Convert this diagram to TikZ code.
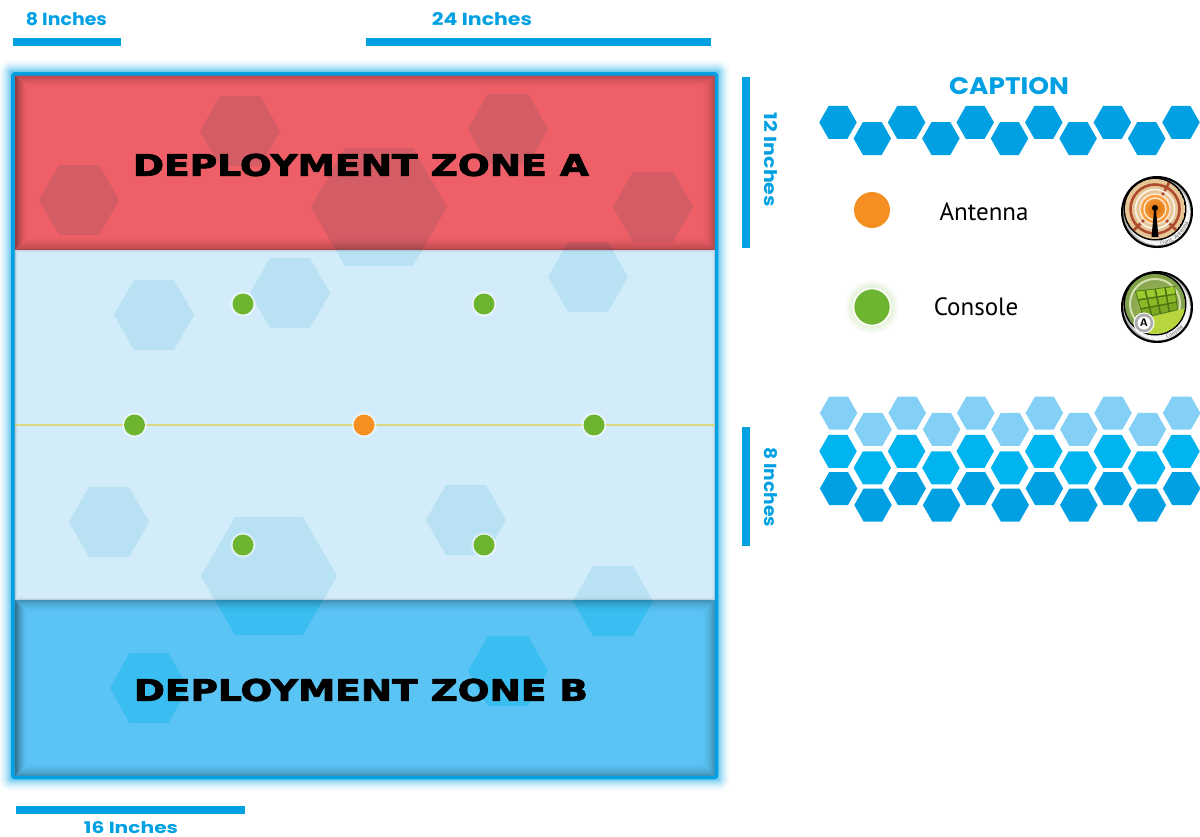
\documentclass[tikz,border=0pt]{standalone}
\usepackage{graphicx}
\usepackage{fontspec}
\setmainfont{PT Sans}
\newfontfamily\labelfont{Poppins}
\newfontfamily\zonefont[FakeBold=2.5]{DejaVu Sans Bold}
\usetikzlibrary{calc,decorations.text}
\definecolor{frameblue}{HTML}{00A0E3}
\definecolor{hexmid}{HTML}{00B4EF}
\definecolor{hexlight}{HTML}{83CFF5}
\definecolor{zonered}{HTML}{EE5F67}
\definecolor{zonemid}{HTML}{D3ECF9}
\definecolor{zoneblue}{HTML}{5AC4F5}
\definecolor{hexonred}{HTML}{D45C65}
\definecolor{hexonmid}{HTML}{B8E1F4}
\definecolor{hexonblue}{HTML}{3ABEF1}
\definecolor{dotgreen}{HTML}{6DB52F}
\definecolor{dotorange}{HTML}{F58F22}
\definecolor{lineyellow}{HTML}{DCD87F}
\definecolor{badgetan}{HTML}{E6C596}
\definecolor{badgered}{HTML}{AE4A2E}
\definecolor{consoleedge}{HTML}{7F9F4A}
\definecolor{consolemid}{HTML}{A9C25E}
\definecolor{consoleglow}{HTML}{B7D53C}
\definecolor{consolering}{HTML}{D5E2B0}
\definecolor{tilegreen}{HTML}{9CC92E}
\definecolor{tiledark}{HTML}{4B7312}
\newcommand{\hexa}[5]{\fill[#5] ({#1-0.5*#3},#2) -- ({#1-0.25*#3},{#2-0.5*#4}) -- ({#1+0.25*#3},{#2-0.5*#4}) -- ({#1+0.5*#3},#2) -- ({#1+0.25*#3},{#2+0.5*#4}) -- ({#1-0.25*#3},{#2+0.5*#4}) -- cycle;}
\newcommand{\fieldhexes}[1]{%
  \hexa{240}{131}{80}{70}{#1}\hexa{79}{200}{80}{70}{#1}\hexa{379}{207}{136}{118}{#1}
  \hexa{508}{129}{80}{70}{#1}\hexa{653}{207}{80}{70}{#1}\hexa{154}{315}{80}{70}{#1}
  \hexa{290}{293}{80}{70}{#1}\hexa{588}{277}{80}{70}{#1}\hexa{109}{522}{80}{70}{#1}
  \hexa{466}{520}{80}{70}{#1}\hexa{269}{576}{136}{118}{#1}\hexa{613}{601}{80}{70}{#1}
  \hexa{149}{688}{78}{70}{#1}\hexa{508}{671}{80}{70}{#1}}
\newcommand{\innershade}[6]{%
  \foreach \i in {0,...,#5}{
    \pgfmathsetmacro{\op}{#6*(1-\i/(#5+1))^2}
    \draw[black,line width=1.05pt,opacity=\op] ({#1+\i+.5},{#2+\i+.5}) rectangle ({#3-\i-.5},{#4-\i-.5});
  }}
\tikzset{
  barline/.style={fill=frameblue},
  dimlabel/.style={inner sep=0pt,text=frameblue,font=\labelfont\bfseries},
  zonelabel/.style={inner sep=0pt,text=black,font=\zonefont},
  legendlabel/.style={inner sep=0pt,text=black,font=\fontsize{25}{28}\selectfont},
  fielddot/.style={circle,inner sep=0pt,minimum size=21pt,fill=#1,
    preaction={draw=white,line width=5pt,opacity=.25},
    preaction={draw=white,line width=2.5pt,opacity=.6}},
}
\begin{document}
\begin{tikzpicture}[x=1pt,y=-1pt]
\useasboundingbox (0,0) rectangle (1200,836);
% outer glow
\foreach \i in {14,13,...,1}{
  \pgfmathsetmacro{\op}{0.13*(1-\i/15)^1.5}
  \fill[frameblue,opacity=\op,rounded corners={\i pt}] ({11-\i},{72-\i}) rectangle ({718+\i},{779+\i});
}
% zones
\fill[zonemid] (14.5,250) rectangle (715,600);
\fill[zonered] (14.5,75) rectangle (715,250);
\fill[zoneblue] (14.5,600) rectangle (715,776);
\begin{scope}
  \clip (14.5,75) rectangle (715,250);
  \fieldhexes{hexonred}
\end{scope}
\begin{scope}
  \clip (14.5,250) rectangle (715,600);
  \fieldhexes{hexonmid}
\end{scope}
\begin{scope}
  \clip (14.5,600) rectangle (715,776);
  \fieldhexes{hexonblue}
\end{scope}
\innershade{14.5}{75}{715}{250}{13}{0.24}
\innershade{14.5}{600}{715}{776}{13}{0.26}
\innershade{14.5}{250}{715}{600}{2}{0.10}
% frame
\draw[frameblue,line width=3.5pt,rounded corners=2pt] (12.8,73.8) rectangle (716.5,777.5);
% centre line and markers
\coordinate (lineL) at (15,425);
\coordinate (lineR) at (715,425);
\draw[lineyellow,line width=2pt] (lineL) -- (lineR);
\node[fielddot=dotgreen] (g1) at (243,304) {};
\node[fielddot=dotgreen] (g2) at (484,304) {};
\node[fielddot=dotgreen] (g3) at (134.5,425) {};
\node[fielddot=dotorange] (o1) at (364,425) {};
\node[fielddot=dotgreen] (g4) at (594,425) {};
\node[fielddot=dotgreen] (g5) at (243,545) {};
\node[fielddot=dotgreen] (g6) at (484,545) {};
% zone labels
\node[zonelabel] (zoneA) at (361,165) {\resizebox{456pt}{22pt}{DEPLOYMENT ZONE A}};
\node[zonelabel] (zoneB) at (361,690) {\resizebox{454pt}{22pt}{DEPLOYMENT ZONE B}};
% dimension bars
\fill[barline] (13,38) rectangle (121,46);
\fill[barline] (366,38) rectangle (711,46);
\fill[barline] (742,77) rectangle (750,248);
\fill[barline] (742,427) rectangle (750,546);
\fill[barline] (16,806) rectangle (245,814);
\node[dimlabel] (d8a) at (66.5,19.5) {\resizebox{81pt}{13pt}{8 Inches}};
\node[dimlabel] (d24) at (482,19.5) {\resizebox{100pt}{13pt}{24 Inches}};
\node[dimlabel] (d16) at (131,827.5) {\resizebox{94pt}{12pt}{16 Inches}};
\node[dimlabel,rotate=-90] (d12) at (770.5,160) {\resizebox{94pt}{13pt}{12 Inches}};
\node[dimlabel,rotate=-90] (d8b) at (770.5,487) {\resizebox{80pt}{13pt}{8 Inches}};
\node[dimlabel] (cap) at (1009,86.5) {\resizebox{120pt}{17pt}{CAPTION}};
% caption hexes
\foreach \x in {838,906.6,975.2,1043.8,1112.4,1181}{\hexa{\x}{122.4}{37.5}{33}{frameblue}}
\foreach \x in {872.3,940.9,1009.5,1078.1,1146.7}{\hexa{\x}{138.5}{37.5}{33}{frameblue}}
% legend
\node[circle,inner sep=0pt,minimum size=36pt,fill=dotorange] (legA) at (872,210) {};
\node[legendlabel] (txtA) at (984,212) {Antenna};
\foreach \i in {8,7,...,1}{
  \fill[dotgreen,opacity=0.025] (872,307) circle ({19+\i});
}
\node[circle,inner sep=0pt,minimum size=37pt,fill=dotgreen,draw=white,line width=1.6pt] (legC) at (872,307) {};
\node[legendlabel] (txtC) at (976,307) {Console};
% antenna badge
\fill[black] (1157,212) circle (36);
\fill[gray!60] (1157,212) circle (33.8);
\fill[white!92!gray] (1158,213) circle (32);
\fill[black] (1155,209) circle (31.5);
\begin{scope}
  \clip (1155,209) circle (30);
  \fill[badgetan] (1155,209) circle (30);
  \draw[badgered,line width=2.6pt] (1155,209) circle (24.5);
  \foreach \a in {45,135,-62}{\draw[badgered,line width=2.6pt] (1155,209) ++(\a:14) -- ++(\a:18);}
  \draw[white!80!badgetan,line width=1.6pt] (1155,209) circle (19.5);
  \fill[inner color=orange!85!black,outer color=orange!70!white] (1155,209) circle (15);
  \draw[white!85!orange,line width=1.3pt] (1155,209) circle (11);
  \draw[white!85!orange,line width=1.3pt] (1155,209) circle (15);
\end{scope}
\fill[black] (1155,208) circle (3);
\fill[black] (1154.2,209) -- (1155.8,209) -- (1158.5,237) -- (1151.5,237) -- cycle;
\path[decorate,decoration={text along path,text align=center,text={|\fontsize{6}{7}\selectfont\color{black!60}|Trans. Antenna}}]
  (1157,212) ++(105:33.3) arc[start angle=105,end angle=0,radius=33.3];
% console badge
\fill[black] (1157,307) circle (36);
\fill[gray!60] (1157,307) circle (33.8);
\fill[white!92!gray] (1158,308) circle (32);
\fill[black] (1155,304) circle (31.5);
\begin{scope}
  \clip (1155,304) circle (30);
  \fill[inner color=consolemid,outer color=consoleedge] (1155,304) circle (30);
  \draw[consolering,line width=2pt] (1155,304) circle (25);
  \fill[consoleglow] (1133,322) -- (1186,308) -- (1190,332) -- (1140,340) -- cycle;
  \coordinate (pTL) at (1135,291);
  \coordinate (pTR) at (1175,286);
  \coordinate (pBR) at (1178,310);
  \coordinate (pBL) at (1143,318);
  \fill[tiledark] (pTL) -- (pTR) -- (pBR) -- (pBL) -- cycle;
  \foreach \u in {0,1,2,3}{\foreach \v in {0,1,2}{
    \pgfmathsetmacro{\ua}{(\u+0.09)/4}\pgfmathsetmacro{\ub}{(\u+0.91)/4}
    \pgfmathsetmacro{\va}{(\v+0.09)/3}\pgfmathsetmacro{\vb}{(\v+0.91)/3}
    \pgfmathsetmacro{\mixv}{100-20*\v}
    \fill[tilegreen!\mixv!tiledark]
      ($($(pTL)!\ua!(pTR)$)!\va!($(pBL)!\ua!(pBR)$)$) --
      ($($(pTL)!\ub!(pTR)$)!\va!($(pBL)!\ub!(pBR)$)$) --
      ($($(pTL)!\ub!(pTR)$)!\vb!($(pBL)!\ub!(pBR)$)$) --
      ($($(pTL)!\ua!(pTR)$)!\vb!($(pBL)!\ua!(pBR)$)$) -- cycle;
  }}
\end{scope}
\path[decorate,decoration={text along path,text align=center,text={|\fontsize{6}{7}\selectfont\color{black!60}|Console}}]
  (1157,307) ++(85:33.3) arc[start angle=85,end angle=25,radius=33.3];
\node[circle,inner sep=0pt,minimum size=20pt,fill=gray!65,draw=white,line width=1pt] (badgeA) at (1144,323) {};
\node[circle,inner sep=0pt,minimum size=13pt,fill=white,font=\sffamily\bfseries\fontsize{11}{12}\selectfont] (badgeAi) at (1144,323) {A};
% stacked hexes
\foreach \x in {838.6,907.2,975.8,1044.4,1113,1181.6}{\hexa{\x}{413}{37.5}{33}{hexlight}}
\foreach \x in {873,941.6,1010.2,1078.8,1147.4}{\hexa{\x}{429.4}{37.5}{33}{hexlight}}
\foreach \x in {838,906.6,975.2,1043.8,1112.4,1181}{\hexa{\x}{451.3}{37.5}{33}{hexmid}}
\foreach \x in {872.3,940.9,1009.5,1078.1,1146.7}{\hexa{\x}{467.8}{37.5}{33}{hexmid}}
\foreach \x in {838.6,907.2,975.8,1044.4,1113,1181.6}{\hexa{\x}{488.5}{37.5}{33}{frameblue}}
\foreach \x in {873,941.6,1010.2,1078.8,1147.4}{\hexa{\x}{505}{37.5}{33}{frameblue}}
\end{tikzpicture}
\end{document}
